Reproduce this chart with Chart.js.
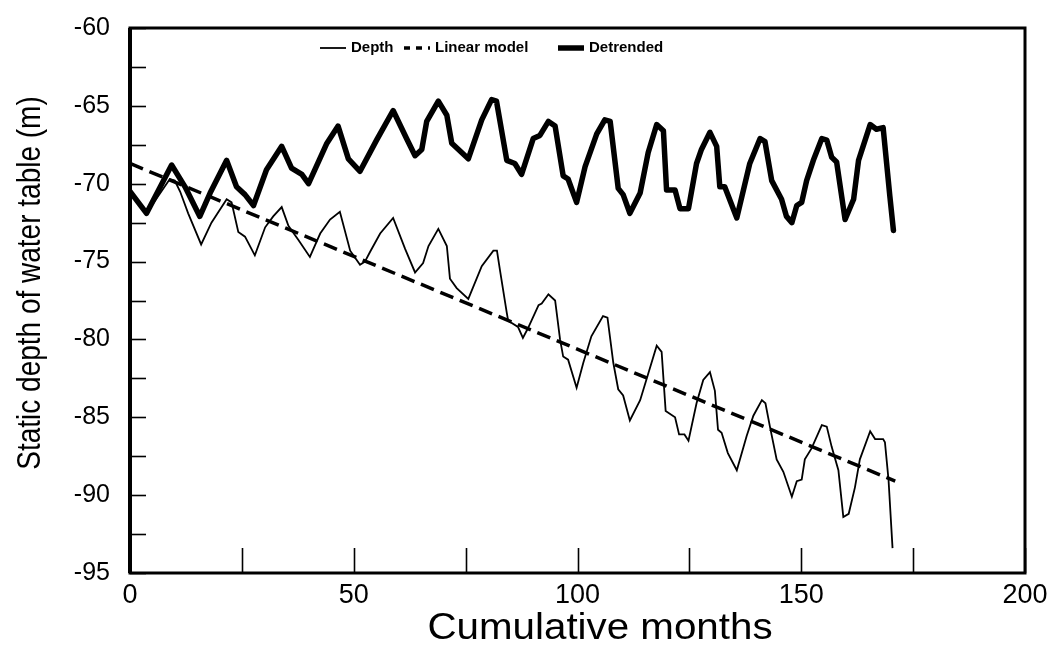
<!DOCTYPE html>
<html>
<head>
<meta charset="utf-8">
<script src="https://cdn.jsdelivr.net/npm/chart.js@4.4.0/dist/chart.umd.min.js"></script>
<style>
  html, body { margin: 0; padding: 0; background: #fff; }
  #wrap { width: 1048px; height: 652px; }
</style>
</head>
<body>
<div id="wrap"><canvas id="chart"></canvas></div>
<script>
// static depth of water table vs cumulative months
const depthMonths = [0, 3.7, 8.9, 10.0, 11.2, 13.0, 15.9, 18.2, 21.6, 22.7, 24.2, 25.7, 27.9, 30.2, 32.0, 33.9, 35.4, 37.6, 40.2,
  42.5, 44.7, 46.9, 49.2, 51.4, 52.5, 53.6, 55.9, 58.8, 61.5, 63.7, 65.5, 66.7, 68.9, 70.8, 71.5, 73.0, 75.6, 78.6, 81.2, 82.0,
  82.7, 84.2, 84.5, 86.7, 87.8, 88.9, 91.3, 92.0, 93.5, 95.0, 96.1, 96.8, 97.9, 99.8, 101.3, 103.1, 105.7, 106.7, 108.0, 109.1,
  110.2, 111.7, 114.0, 115.8, 117.7, 118.8, 119.7, 121.8, 122.7, 123.9, 124.8, 126.6, 128.1, 129.6, 130.7, 131.4, 132.2, 133.6,
  135.6, 137.8, 139.3, 141.2, 142.0, 143.0, 144.5, 146.0, 147.9, 149.0, 150.1, 150.8, 152.3, 154.6, 155.7, 156.8, 158.3, 159.4,
  160.6, 162.0, 163.1, 165.4, 166.5, 168.3, 168.7, 169.5, 170.4];
const depthValues = [-70.5, -71.9, -69.7, -69.8, -70.5, -71.9, -73.9, -72.5, -71.0, -71.2, -73.1, -73.4, -74.6, -72.8, -72.1, -71.5, -72.7, -73.6, -74.7,
  -73.2, -72.3, -71.8, -74.3, -75.2, -75.0, -74.4, -73.2, -72.2, -74.2, -75.7, -75.1, -74.0, -72.9, -74.0, -76.1, -76.7, -77.4, -75.3, -74.3, -74.3,
  -75.6, -78.3, -78.8, -79.2, -79.9, -79.3, -77.8, -77.7, -77.1, -77.5, -80.0, -81.1, -81.3, -83.1, -81.5, -79.8, -78.5, -78.6, -81.5, -83.2,
  -83.6, -85.2, -83.9, -82.2, -80.4, -80.8, -84.6, -85.0, -86.1, -86.1, -86.5, -84.1, -82.6, -82.1, -83.3, -85.8, -86.0, -87.3,
  -88.4, -86.2, -84.9, -83.9, -84.1, -85.6, -87.7, -88.5, -90.1, -89.1, -89.0, -87.7, -87.0, -85.5, -85.6, -86.9, -88.4, -91.4,
  -91.2, -89.5, -87.7, -85.9, -86.4, -86.4, -86.6, -89.0, -93.4];

const linearMonths = [0, 171];
const linearValues = [-68.7, -89.1];

const detrendMonths = [0, 3.7, 9.3, 12.3, 15.6, 17.9, 21.6, 23.8, 25.7, 27.6, 30.5, 33.9, 36.1, 38.4, 39.9, 44.0, 46.5, 48.8, 51.4,
  55.1, 58.8, 61.8, 63.7, 65.2, 66.3, 68.9, 70.8, 71.9, 73.4, 75.6, 78.6, 80.8, 81.9, 84.2, 86.0, 87.5, 90.1, 91.6, 93.5, 95.0,
  96.8, 97.9, 99.8, 101.7, 104.3, 106.1, 107.3, 109.1, 110.2, 111.7, 114.0, 115.8, 117.7, 119.2, 119.9, 121.8, 122.9, 124.8,
  126.6, 127.7, 129.6, 131.1, 131.8, 132.9, 135.6, 138.5, 140.8, 141.9, 143.4, 145.6, 146.7, 147.9, 149.0, 150.1, 151.2, 152.7,
  154.6, 155.7, 156.8, 157.9, 159.8, 161.7, 162.8, 165.4, 166.8, 168.3, 169.8, 170.6];
const detrendValues = [-70.5, -71.9, -68.8, -70.2, -72.1, -70.6, -68.5, -70.2, -70.7, -71.4, -69.1, -67.6, -69.0, -69.4, -70.0, -67.4, -66.3, -68.4, -69.2,
  -67.2, -65.3, -67.1, -68.2, -67.8, -66.0, -64.7, -65.6, -67.4, -67.8, -68.4, -65.9, -64.6, -64.7, -68.5, -68.7, -69.4, -67.1, -66.9, -66.0, -66.3,
  -69.5, -69.7, -71.2, -68.9, -66.8, -65.9, -66.0, -70.3, -70.7, -71.9, -70.6, -68.0, -66.2, -66.6, -70.4, -70.4, -71.6, -71.6,
  -68.7, -67.8, -66.7, -67.6, -70.2, -70.2, -72.2, -68.7, -67.1, -67.3, -69.8, -71.0, -72.1, -72.5, -71.4, -71.2, -69.8, -68.5,
  -67.1, -67.2, -68.3, -68.6, -72.3, -71.0, -68.5, -66.2, -66.5, -66.4, -70.8, -73.0];

const seriesNames = ['Depth', 'Linear model', 'Detrended'];
const xTitle = 'Cumulative months';
const yTitle = 'Static depth of water table (m)';

function toPoints(xs, ys) {
  return xs.map((x, i) => ({ x: x, y: ys[i] }));
}

// inward ticks, box frame, axis titles (a bit wider, like the scanned figure)
const framePlugin = {
  id: 'frame',
  afterDraw(chart) {
    const ctx = chart.ctx;
    const a = chart.chartArea;
    const xs = chart.scales.x, ys = chart.scales.y;
    ctx.save();
    ctx.strokeStyle = '#000';
    ctx.lineWidth = 1.6;
    xs.ticks.forEach(t => {
      const px = Math.round(xs.getPixelForValue(t.value)) + 0.5;
      ctx.beginPath();
      ctx.moveTo(px, a.bottom);
      ctx.lineTo(px, a.bottom - 25);
      ctx.stroke();
    });
    ys.ticks.forEach(t => {
      const py = Math.round(ys.getPixelForValue(t.value)) + 0.5;
      ctx.beginPath();
      ctx.moveTo(a.left, py);
      ctx.lineTo(a.left + 16, py);
      ctx.stroke();
    });
    ctx.lineWidth = 3;
    ctx.strokeRect(a.left, a.top, a.right - a.left, a.bottom - a.top);
    // left axis a little heavier
    ctx.lineWidth = 4;
    ctx.beginPath();
    ctx.moveTo(a.left, a.top);
    ctx.lineTo(a.left, a.bottom);
    ctx.stroke();

    ctx.fillStyle = '#000';
    ctx.textAlign = 'center';
    ctx.textBaseline = 'middle';
    ctx.save();
    ctx.translate(600, 629);
    ctx.scale(1.12, 1);
    ctx.font = '36px "Liberation Sans", Arial, sans-serif';
    ctx.fillText(xTitle, 0, 0);
    ctx.restore();

    ctx.save();
    ctx.translate(31, 283);
    ctx.rotate(-Math.PI / 2);
    ctx.scale(1, 1.2);
    ctx.font = '28px "Liberation Sans", Arial, sans-serif';
    ctx.fillText(yTitle, 0, 0);
    ctx.restore();
    ctx.restore();
  }
};

// legend inside the plot, top
const legendPlugin = {
  id: 'insideLegend',
  afterDraw(chart) {
    const ctx = chart.ctx;
    const starts = [320, 404, 558];
    const y = chart.chartArea.top + 20;
    ctx.save();
    ctx.font = 'bold 15px "Liberation Sans", Arial, sans-serif';
    ctx.textBaseline = 'middle';
    ctx.fillStyle = '#000';
    chart.data.datasets.forEach((ds, i) => {
      const x0 = starts[i];
      ctx.beginPath();
      ctx.strokeStyle = '#000';
      ctx.lineWidth = ds.borderWidth;
      ctx.setLineDash(ds.borderDash ? [6, 6] : []);
      ctx.moveTo(x0, y);
      ctx.lineTo(x0 + 26, y);
      ctx.stroke();
      ctx.setLineDash([]);
      ctx.fillText(ds.label, x0 + 31, y);
    });
    ctx.restore();
  }
};

Chart.defaults.font.family = '"Liberation Sans", Arial, sans-serif';
Chart.defaults.color = '#000';

new Chart(document.getElementById('chart'), {
  type: 'line',
  data: {
    datasets: [
      {
        label: seriesNames[0],
        data: toPoints(depthMonths, depthValues),
        borderColor: '#000',
        borderWidth: 1.8,
        pointRadius: 0,
        tension: 0
      },
      {
        label: seriesNames[1],
        data: toPoints(linearMonths, linearValues),
        borderColor: '#000',
        borderWidth: 3.5,
        borderDash: [14, 7],
        pointRadius: 0,
        tension: 0
      },
      {
        label: seriesNames[2],
        data: toPoints(detrendMonths, detrendValues),
        borderColor: '#000',
        borderWidth: 5.5,
        borderJoinStyle: 'round',
        borderCapStyle: 'round',
        pointRadius: 0,
        tension: 0
      }
    ]
  },
  options: {
    responsive: true,
    maintainAspectRatio: false,
    animation: false,
    layout: { padding: { left: 0, top: 28, right: 23, bottom: 0 } },
    plugins: {
      legend: { display: false },
      tooltip: { enabled: false }
    },
    scales: {
      x: {
        type: 'linear',
        min: 0,
        max: 200,
        afterFit: s => { s.height = 79; s.paddingLeft = 0; s.paddingRight = 0; },
        grid: { display: false, drawTicks: false },
        border: { display: false },
        ticks: {
          stepSize: 25,
          autoSkip: false,
          maxRotation: 0,
          padding: 6,
          font: { size: 27 },
          callback: v => (v % 50 === 0 ? v : '')
        }
      },
      y: {
        min: -95,
        max: -60,
        afterFit: s => { s.width = 130; s.paddingTop = 0; s.paddingBottom = 0; },
        grid: { display: false, drawTicks: false },
        border: { display: false },
        ticks: {
          stepSize: 2.5,
          autoSkip: false,
          padding: 20,
          font: { size: 25 },
          callback: v => (v % 5 === 0 ? v : '')
        }
      }
    }
  },
  plugins: [framePlugin, legendPlugin]
});
</script>
</body>
</html>
